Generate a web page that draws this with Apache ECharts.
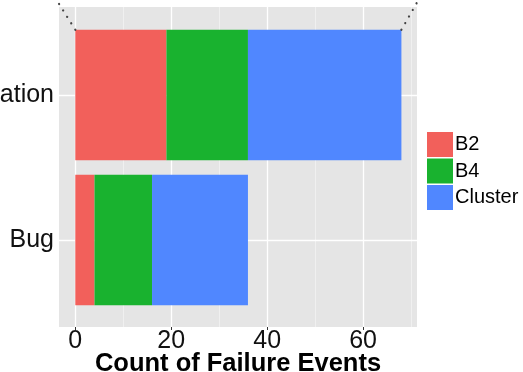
<!DOCTYPE html>
<html><head><meta charset="utf-8">
<script src="https://cdn.jsdelivr.net/npm/echarts@6/dist/echarts.min.js"></script>
<style>html,body{margin:0;padding:0;background:#fff}#c{width:523px;height:372px}</style>
</head><body><div id="c"></div>
<script>
const categories = ['Bug', 'Configuration'];
const seriesNames = ['B2', 'B4', 'Cluster'];
const b2 = [4, 19];
const b4 = [12, 17];
const cluster = [20, 32];
const xTickLabels = [0, 20, 40, 60];
const xMinorTicks = [10, 30, 50, 70];
const xRange = [-3.4, 71.25];
const colors = ['#F2605B', '#19B22F', '#5087FF'];
const font = "'Liberation Sans', Arial, Helvetica, sans-serif";

const chart = echarts.init(document.getElementById('c'), null, {renderer: 'canvas'});
const gridPos = {left: 59, width: 358};
const valuesBySeries = [b2, b4, cluster];

const option = {
  animation: false,
  textStyle: {fontFamily: font},
  grid: [
    {left: gridPos.left, width: gridPos.width, top: 7, height: 320, show: true, backgroundColor: '#E5E5E5', borderWidth: 0, outerBoundsMode: 'none', containLabel: false},
    {left: gridPos.left, width: gridPos.width, top: 22.5, height: 290, show: false, outerBoundsMode: 'none', containLabel: false}
  ],
  xAxis: [
    {type: 'value', gridIndex: 0, min: xRange[0], max: xRange[1],
     axisLine: {show: false}, splitLine: {show: false},
     axisTick: {show: true, customValues: xTickLabels, length: 3, lineStyle: {color: '#333'}},
     axisLabel: {show: true, customValues: xTickLabels, fontSize: 25, color: '#111', margin: 2, fontFamily: font},
     name: 'Count of Failure Events', nameLocation: 'middle', nameGap: 24, nameMoveOverlap: false,
     nameTextStyle: {fontSize: 25.5, fontWeight: 'bold', color: '#000', fontFamily: font, verticalAlign: 'top'}},
    {type: 'value', gridIndex: 1, min: xRange[0], max: xRange[1], show: false}
  ],
  yAxis: [
    {type: 'value', gridIndex: 0, min: 0, max: 1, show: false},
    {type: 'category', gridIndex: 1, data: categories, boundaryGap: true,
     axisLine: {show: false},
     axisTick: {show: true, alignWithLabel: true, length: 3, lineStyle: {color: '#333'}},
     axisLabel: {fontSize: 25, color: '#111', margin: 5, fontFamily: font},
     splitLine: {show: false}}
  ],
  legend: {
    orient: 'vertical', left: 427, top: 132, padding: 0, itemWidth: 26, itemHeight: 25, itemGap: 1.5,
    icon: 'rect', data: seriesNames,
    textStyle: {fontSize: 20, color: '#000', fontFamily: font, padding: [0, 0, 0, -3]}
  },
  series: [
    {type: 'scatter', xAxisIndex: 0, yAxisIndex: 0, data: [], silent: true,
     markLine: {silent: true, symbol: 'none', z: 1, label: {show: false},
       data: xTickLabels.map(v => ({xAxis: v, lineStyle: {color: '#fff', width: 1.3, type: 'solid'}}))
         .concat(xMinorTicks.map(v => ({xAxis: v, lineStyle: {color: '#F5F5F5', width: 0.7, type: 'solid'}})))}},
    {type: 'scatter', xAxisIndex: 1, yAxisIndex: 1, data: [], silent: true,
     markLine: {silent: true, symbol: 'none', z: 1, label: {show: false},
       data: categories.map(c => ({yAxis: c, lineStyle: {color: '#fff', width: 1.3, type: 'solid'}}))}}
  ].concat(seriesNames.map((n, i) => ({
    name: n, type: 'bar', stack: 'total', xAxisIndex: 1, yAxisIndex: 1,
    barWidth: '90%', data: valuesBySeries[i], itemStyle: {color: colors[i]}, z: 2
  })))
};
chart.setOption(option);

// dotted connector annotations at the corners of the top bar
const pTop = chart.convertToPixel({xAxisIndex: 1, yAxisIndex: 1}, [0, categories[1]]);
const pBot = chart.convertToPixel({xAxisIndex: 1, yAxisIndex: 1}, [0, categories[0]]);
const band = Math.abs(pBot[1] - pTop[1]);
const topY = pTop[1] - band * 0.45;
const total = b2[1] + b4[1] + cluster[1];
const xL = pTop[0];
const xR = chart.convertToPixel({xAxisIndex: 1, yAxisIndex: 1}, [total, categories[1]])[0];
const dotStyle = {stroke: '#444', lineWidth: 2.2, lineDash: [0.1, 7.5], lineCap: 'round'};
chart.setOption({graphic: [
  {type: 'line', z: 100, shape: {x1: xL, y1: topY, x2: xL - 17, y2: topY - 27}, style: dotStyle, silent: true},
  {type: 'line', z: 100, shape: {x1: xR, y1: topY, x2: xR + 16, y2: topY - 28}, style: dotStyle, silent: true}
]});
</script></body></html>
